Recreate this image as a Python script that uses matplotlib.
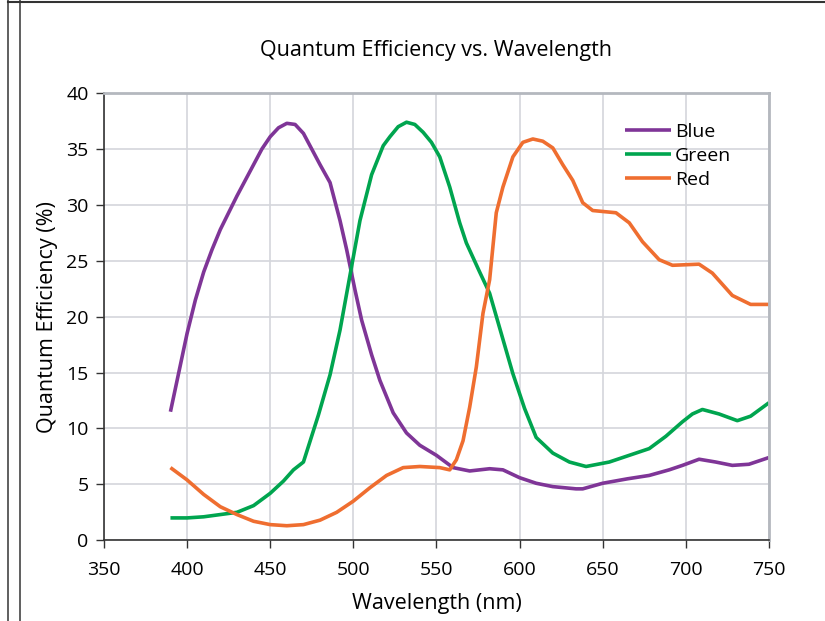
import matplotlib.pyplot as plt
from matplotlib.lines import Line2D

plt.rcParams['font.family'] = ['Open Sans', 'DejaVu Sans']

# values
blue_nm = [390, 395, 400, 405, 410, 415, 420, 430, 440, 445, 450, 455, 460, 465, 470, 475, 480,
           486, 492, 496, 501, 505, 511, 516, 524, 532, 540, 550, 560, 570, 582, 590, 600, 610,
           620, 634, 638, 650, 665, 678, 690, 698, 708, 718, 728, 738, 750]
blue_qe = [11.5, 15, 18.5, 21.5, 24, 26, 27.8, 30.8, 33.6, 35, 36.1, 36.9, 37.3, 37.2, 36.4, 35, 33.6,
           32, 28.6, 26, 22.4, 19.7, 16.6, 14.3, 11.4, 9.6, 8.5, 7.6, 6.5, 6.2, 6.4, 6.3, 5.6, 5.1,
           4.8, 4.6, 4.6, 5.1, 5.5, 5.8, 6.3, 6.7, 7.25, 7.0, 6.7, 6.8, 7.4]

green_nm = [390, 400, 410, 420, 430, 440, 450, 458, 464, 470, 479, 486, 492, 498, 504, 511, 518,
            522, 527, 532, 537, 542, 547, 552, 558, 564, 568, 576, 582, 589, 596, 603, 610, 620,
            630, 640, 654, 666, 678, 688, 698, 704, 710, 720, 731, 739, 750]
green_qe = [2.0, 2.0, 2.1, 2.3, 2.5, 3.1, 4.2, 5.3, 6.3, 7.0, 11.2, 14.8, 18.8, 23.7, 28.6, 32.7, 35.3,
            36.1, 37.0, 37.4, 37.2, 36.5, 35.6, 34.3, 31.6, 28.4, 26.6, 24.0, 22.1, 18.5, 14.9, 11.8, 9.2, 7.8,
            7.0, 6.6, 7.0, 7.6, 8.2, 9.3, 10.6, 11.3, 11.7, 11.3, 10.7, 11.1, 12.3]

red_nm = [390, 400, 410, 420, 430, 440, 450, 460, 470, 480, 490, 500, 510, 520, 530, 540, 552, 558,
          562, 566, 570, 574, 578, 582, 586, 590, 596, 602, 608, 614, 620, 626, 632, 638, 644, 658,
          666, 674, 684, 692, 708, 716, 728, 739, 750]
red_qe = [6.5, 5.4, 4.1, 3.0, 2.3, 1.7, 1.4, 1.3, 1.4, 1.8, 2.5, 3.5, 4.7, 5.8, 6.5, 6.6, 6.5, 6.3,
          7.2, 8.9, 11.9, 15.5, 20.3, 23.3, 29.3, 31.6, 34.3, 35.6, 35.9, 35.7, 35.1, 33.6, 32.2, 30.2, 29.5, 29.3,
          28.4, 26.7, 25.1, 24.6, 24.7, 23.9, 21.9, 21.1, 21.1]

fig = plt.figure(figsize=(8.25, 6.21), dpi=100)
ax = fig.add_axes([0.126, 0.130, 0.806, 0.720])

ax.plot(blue_nm, blue_qe, color='#7f3597', lw=2.6, label='Blue', solid_capstyle='butt')
ax.plot(green_nm, green_qe, color='#00a54f', lw=2.6, label='Green', solid_capstyle='butt')
ax.plot(red_nm, red_qe, color='#ef6e30', lw=2.6, label='Red', solid_capstyle='butt')

ax.set_xlim(350, 750)
ax.set_ylim(0, 40)
ax.set_xticks(range(350, 751, 50))
ax.set_yticks(range(0, 41, 5))
ax.grid(True, color='#d4d6dc', lw=1.2)
ax.set_axisbelow(True)
ax.tick_params(direction='out', length=6, width=1, color='#333333', labelsize=14, pad=9)
ax.tick_params(axis='y', pad=5)
for s in ['left', 'bottom']:
    ax.spines[s].set_color('#333333')
    ax.spines[s].set_linewidth(1.2)
for s in ['top', 'right']:
    ax.spines[s].set_color('#b4b8be')
    ax.spines[s].set_linewidth(2)

ax.set_title('Quantum Efficiency vs. Wavelength', fontsize=15.5, pad=27)
ax.set_xlabel('Wavelength (nm)', fontsize=15.5, labelpad=10)
ax.set_ylabel('Quantum Efficiency (%)', fontsize=15.5, labelpad=6)

ax.legend(loc='upper left', bbox_to_anchor=(0.772, 0.95), frameon=False, fontsize=14,
          handlelength=2.35, handletextpad=0.2, labelspacing=0.3, borderaxespad=0)

# page frame
fig.add_artist(Line2D([8 / 825, 8 / 825], [0, 1], color='#444444', lw=1.2))
fig.add_artist(Line2D([20 / 825, 20 / 825], [0, 1], color='#444444', lw=1.2))
fig.add_artist(Line2D([8 / 825, 1], [1 - 2 / 621, 1 - 2 / 621], color='#333333', lw=1.5))

fig.savefig('out.png', dpi=100)
